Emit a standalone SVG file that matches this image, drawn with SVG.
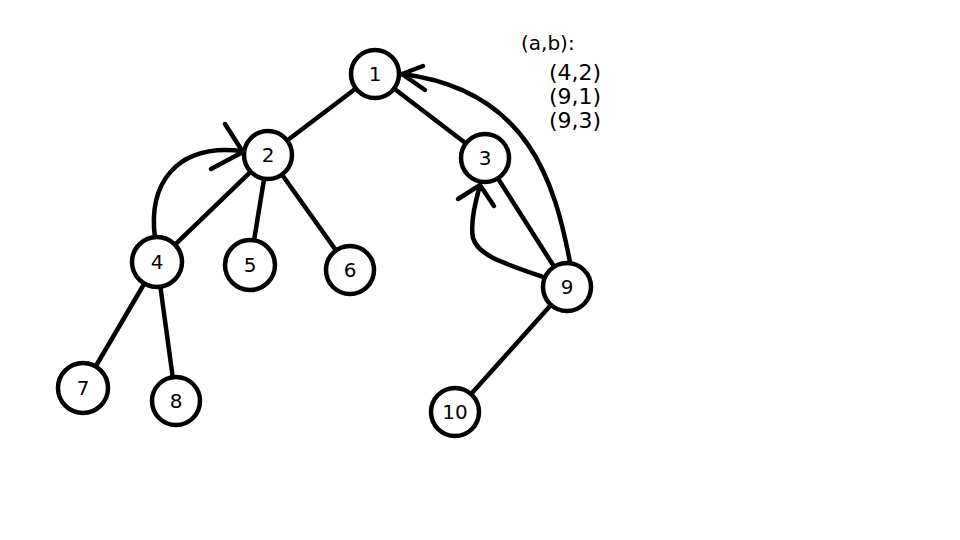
<svg xmlns="http://www.w3.org/2000/svg" width="960" height="540" viewBox="0 0 960 540">
<style>
.n circle{fill:#fff;stroke:#000;stroke-width:4.5}
.n text{font-family:"DejaVu Sans",Verdana,sans-serif;font-size:20px;fill:#000;text-anchor:middle;dominant-baseline:central}
.e{stroke:#000;stroke-width:4.5;fill:none;stroke-linecap:round}
.lg{font-family:"DejaVu Sans",Verdana,sans-serif;font-size:22px;fill:#000}
</style>
<rect width="960" height="540" fill="#fff"/>
<g id="connectors">
<line class="e" x1="375" y1="74" x2="268" y2="155"/>
<line class="e" x1="375" y1="74" x2="485" y2="158"/>
<line class="e" x1="268" y1="155" x2="157" y2="262"/>
<line class="e" x1="268" y1="155" x2="250" y2="265"/>
<line class="e" x1="268" y1="155" x2="350" y2="270"/>
<line class="e" x1="157" y1="262" x2="83" y2="388"/>
<line class="e" x1="157" y1="262" x2="176" y2="401"/>
<line class="e" x1="485" y1="158" x2="567" y2="287"/>
<line class="e" x1="567" y1="287" x2="455" y2="412"/>
<path class="e" d="M155,238 C148,185 175,143 242,151"/>
<path class="e" d="M225,124 L241,149 M211,169 L241,153"/>
<path class="e" d="M570,262 C555,185 530,90 402,74"/>
<path class="e" d="M423,66 L402,74 L425,90"/>
<path class="e" d="M543,277 C500,262 478,255 473,238 C470,222 476,200 480,185"/>
<path class="e" d="M458,199 L480,185 L494,206"/>
</g>
<g id="n1" class="n"><circle cx="375" cy="74" r="24"/><text x="375" y="74">1</text></g>
<g id="n2" class="n"><circle cx="268" cy="155" r="24"/><text x="268" y="155">2</text></g>
<g id="n3" class="n"><circle cx="485" cy="158" r="24"/><text x="485" y="158">3</text></g>
<g id="n4" class="n"><circle cx="157" cy="262" r="25"/><text x="157" y="262">4</text></g>
<g id="n5" class="n"><circle cx="250" cy="265" r="25"/><text x="250" y="265">5</text></g>
<g id="n6" class="n"><circle cx="350" cy="270" r="24"/><text x="350" y="270">6</text></g>
<g id="n7" class="n"><circle cx="83" cy="388" r="25"/><text x="83" y="388">7</text></g>
<g id="n8" class="n"><circle cx="176" cy="401" r="24"/><text x="176" y="401">8</text></g>
<g id="n9" class="n"><circle cx="567" cy="287" r="24"/><text x="567" y="287">9</text></g>
<g id="n10" class="n"><circle cx="455" cy="412" r="24"/><text x="455" y="412">10</text></g>
<g id="legend">
<text class="lg" x="521" y="50" style="font-size:20px">(a,b):</text>
<text class="lg" x="549" y="80">(4,2)</text>
<text class="lg" x="549" y="104">(9,1)</text>
<text class="lg" x="549" y="128">(9,3)</text>
</g>
</svg>
